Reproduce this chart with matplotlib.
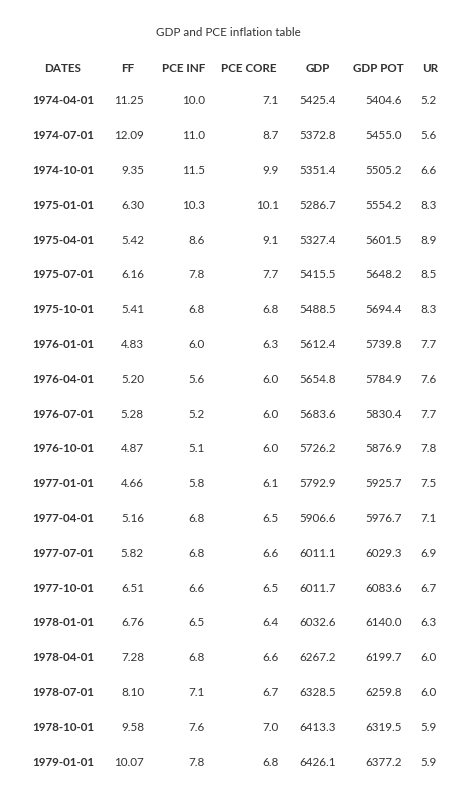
import matplotlib
matplotlib.use("Agg")
import matplotlib.pyplot as plt

plt.rcParams['font.family'] = ['Lato', 'DejaVu Sans']

TITLE = "GDP and PCE inflation table"
HEADERS = ["DATES", "FF", "PCE INF", "PCE CORE", "GDP", "GDP POT", "UR"]
dates = ["1974-04-01", "1974-07-01", "1974-10-01", "1975-01-01", "1975-04-01",
         "1975-07-01", "1975-10-01", "1976-01-01", "1976-04-01", "1976-07-01",
         "1976-10-01", "1977-01-01", "1977-04-01", "1977-07-01", "1977-10-01",
         "1978-01-01", "1978-04-01", "1978-07-01", "1978-10-01", "1979-01-01"]
ff = [11.25, 12.09, 9.35, 6.30, 5.42, 6.16, 5.41, 4.83, 5.20, 5.28,
      4.87, 4.66, 5.16, 5.82, 6.51, 6.76, 7.28, 8.10, 9.58, 10.07]
pce_inf = [10.0, 11.0, 11.5, 10.3, 8.6, 7.8, 6.8, 6.0, 5.6, 5.2,
           5.1, 5.8, 6.8, 6.8, 6.6, 6.5, 6.8, 7.1, 7.6, 7.8]
pce_core = [7.1, 8.7, 9.9, 10.1, 9.1, 7.7, 6.8, 6.3, 6.0, 6.0,
            6.0, 6.1, 6.5, 6.6, 6.5, 6.4, 6.6, 6.7, 7.0, 6.8]
gdp = [5425.4, 5372.8, 5351.4, 5286.7, 5327.4, 5415.5, 5488.5, 5612.4, 5654.8, 5683.6,
       5726.2, 5792.9, 5906.6, 6011.1, 6011.7, 6032.6, 6267.2, 6328.5, 6413.3, 6426.1]
gdp_pot = [5404.6, 5455.0, 5505.2, 5554.2, 5601.5, 5648.2, 5694.4, 5739.8, 5784.9, 5830.4,
           5876.9, 5925.7, 5976.7, 6029.3, 6083.6, 6140.0, 6199.7, 6259.8, 6319.5, 6377.2]
ur = [5.2, 5.6, 6.6, 8.3, 8.9, 8.5, 8.3, 7.7, 7.6, 7.7,
      7.8, 7.5, 7.1, 6.9, 6.7, 6.3, 6.0, 6.0, 5.9, 5.9]

W, H = 457, 794
fig = plt.figure(figsize=(W / 100, H / 100), dpi=100)
ax = fig.add_axes([0, 0, 1, 1])
ax.set_xlim(0, W)
ax.set_ylim(H, 0)
ax.axis("off")

col = "#333333"
fs = 8.4
ax.text(W / 2, 33, TITLE, ha="center", va="center", fontsize=fs, color=col)

# (x, ha) per column for header and data
hdr_pos = [(63, "center"), (128, "center"), (184, "center"), (249, "center"),
           (318, "center"), (378, "center"), (430, "center")]
dat_pos = [(63, "center"), (144, "right"), (205, "right"), (279, "right"),
           (336, "right"), (402, "right"), (437, "right")]
for (x, ha), h in zip(hdr_pos, HEADERS):
    ax.text(x, 68, h, ha=ha, va="center", fontsize=fs, color=col, fontweight="bold")

y0, dy = 101, (762 - 101) / 19
for i in range(len(dates)):
    y = y0 + i * dy
    vals = [dates[i], f"{ff[i]:.2f}", f"{pce_inf[i]:.1f}", f"{pce_core[i]:.1f}",
            f"{gdp[i]:.1f}", f"{gdp_pot[i]:.1f}", f"{ur[i]:.1f}"]
    for j, ((x, ha), v) in enumerate(zip(dat_pos, vals)):
        ax.text(x, y, v, ha=ha, va="center", fontsize=fs, color=col,
                fontweight="bold" if j == 0 else "normal")

fig.savefig("out.png", dpi=100)
